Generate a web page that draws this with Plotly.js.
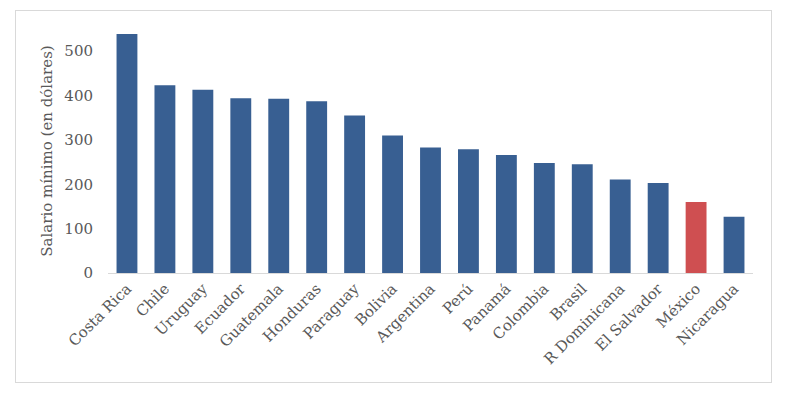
<!DOCTYPE html>
<html><head><meta charset="utf-8">
<script src="https://cdn.plot.ly/plotly-3.0.1.min.js"></script>
<style>
html,body{margin:0;padding:0;background:#ffffff;}
#frame{position:absolute;left:15px;top:10px;width:755px;height:371px;border:1px solid #d9d9d9;background:#fff;}
#chart{width:755px;height:371px;}
</style></head>
<body><div id="frame"><div id="chart"></div></div>
<script>
const countries = ["Costa Rica","Chile","Uruguay","Ecuador","Guatemala","Honduras","Paraguay","Bolivia","Argentina","Perú","Panamá","Colombia","Brasil","R Dominicana","El Salvador","México","Nicaragua"];
const salaries = [539,423,413,394,393,387,355,310,283,279,266,248,245,211,203,160,127];
const highlight = "México";
const colors = countries.map(c => c === highlight ? "#CF4F51" : "#385F92");

Plotly.newPlot("chart", [{
  type: "bar",
  x: countries,
  y: salaries,
  marker: {color: colors},
  hoverinfo: "x+y"
}], {
  width: 755, height: 371,
  margin: {l: 92, r: 18, t: 18, b: 109},
  paper_bgcolor: "#ffffff",
  plot_bgcolor: "#ffffff",
  bargap: 0.45,
  showlegend: false,
  font: {family: "DejaVu Serif, serif", color: "#595959", size: 14},
  xaxis: {
    tickangle: -45,
    showline: true, linecolor: "#d9d9d9", linewidth: 1,
    ticks: "", showgrid: false, zeroline: false,
    tickfont: {size: 15, color: "#595959"}
  },
  yaxis: {
    range: [0, 550],
    tickvals: [0,100,200,300,400,500],
    showline: false, showgrid: false, zeroline: false, ticks: "",
    ticklabelstandoff: 14,
    tickfont: {size: 15, color: "#595959"},
    title: {text: "Salario mínimo (en dólares)", font: {size: 15, color: "#595959"}, standoff: 8}
  }
}, {displayModeBar: false, staticPlot: true});
</script>
</body></html>
